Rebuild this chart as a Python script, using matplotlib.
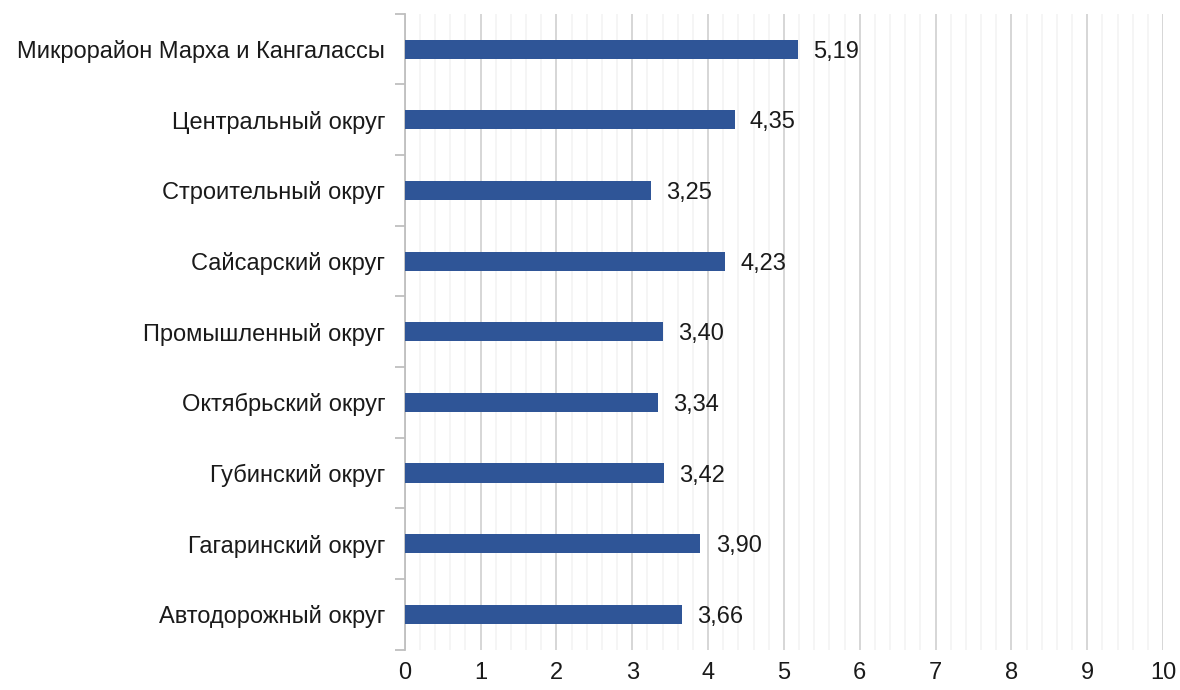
import matplotlib.pyplot as plt
from matplotlib.ticker import MultipleLocator, FixedLocator

plt.rcParams['font.family'] = ['Liberation Sans', 'DejaVu Sans']

districts = ['Микрорайон Марха и Кангалассы', 'Центральный округ', 'Строительный округ',
             'Сайсарский округ', 'Промышленный округ', 'Октябрьский округ',
             'Губинский округ', 'Гагаринский округ', 'Автодорожный округ']
values = [5.19, 4.35, 3.25, 4.23, 3.40, 3.34, 3.42, 3.90, 3.66]

# bottom-to-top order for barh
districts = districts[::-1]
values = values[::-1]

fig = plt.figure(figsize=(11.8, 6.9), dpi=100)
ax = fig.add_axes([0.343, 0.0585, 0.6426, 0.9215])

pos = list(range(len(districts)))
ax.barh(pos, values, height=0.27, color='#2F5597', zorder=3)

for y, v in zip(pos, values):
    ax.text(v + 0.2, y, '{:.2f}'.format(v).replace('.', ','), va='center_baseline', ha='left',
            fontsize=17, color='#1a1a1a')

ax.set_xlim(0, 10)
ax.set_ylim(-0.5, len(districts) - 0.5)
ax.xaxis.set_major_locator(MultipleLocator(1))
ax.xaxis.set_minor_locator(MultipleLocator(0.2))
ax.grid(axis='x', which='major', color='#D3D3D3', linewidth=1.3, zorder=0)
ax.grid(axis='x', which='minor', color='#F2F2F2', linewidth=1.1, zorder=0)

ax.set_yticks(pos)
ax.set_yticklabels(districts)
ax.yaxis.set_minor_locator(FixedLocator([p - 0.5 for p in pos] + [len(pos) - 0.5]))
ax.tick_params(axis='y', which='major', length=0, pad=14, labelsize=17, labelcolor='#1a1a1a')
ax.tick_params(axis='y', which='minor', length=7, color='#BFBFBF', width=1.3)
ax.tick_params(axis='x', which='both', length=0, pad=9, labelsize=17, labelcolor='#1a1a1a')

for s in ['top', 'right', 'bottom']:
    ax.spines[s].set_visible(False)
ax.spines['left'].set_color('#BFBFBF')
ax.spines['left'].set_linewidth(1.3)

plt.savefig('out.png')
